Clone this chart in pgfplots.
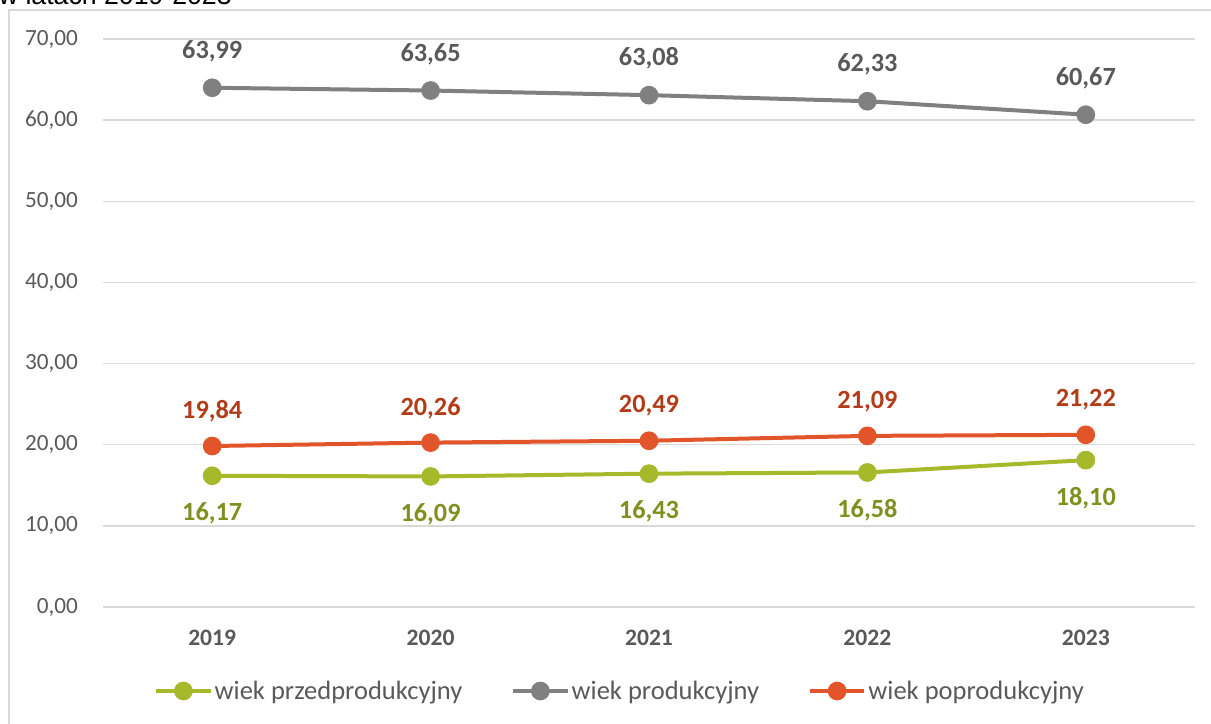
\documentclass[border=0pt]{standalone}
\usepackage{pgfplots}
\pgfplotsset{compat=1.18}
\usepackage{fontspec}
\setmainfont{Carlito}
\newfontfamily\arialfont{Liberation Sans}
\definecolor{cgreen}{HTML}{A5B92B}
\definecolor{cgreenT}{HTML}{7F901F}
\definecolor{corange}{HTML}{E2542A}
\definecolor{corangeT}{HTML}{B23C17}
\definecolor{cgray}{HTML}{808080}
\definecolor{cgrayT}{HTML}{595959}
\definecolor{cgrid}{HTML}{D9D9D9}
\begin{document}
\begin{tikzpicture}
\path[use as bounding box] (0,0) rectangle (908.25pt,543pt);
\clip (0,0) rectangle (908.25pt,543pt);
\draw[cgrid, line width=1.2pt] (6.75pt,-5pt) -- (6.75pt,535.5pt) -- (915pt,535.5pt);
\node[anchor=base west, inner sep=0, font=\arialfont\fontsize{20}{24}\selectfont, text=black] at (-1pt,539.25pt) {w latach 2019-2023};
\begin{axis}[
  at={(77.25pt,87.75pt)}, anchor=south west,
  scale only axis, width=819pt, height=426pt,
  xmin=0, xmax=5, ymin=0, ymax=70,
  xtick={0.5,1.5,2.5,3.5,4.5},
  xticklabels={2019,2020,2021,2022,2023},
  ytick={0,10,...,70},
  axis line style={draw=none},
  major tick length=0pt,
  ymajorgrids, grid style={cgrid, line width=1pt},
  /pgf/number format/assume math mode=true,
  /pgf/number format/use comma,
  /pgf/number format/fixed,
  /pgf/number format/fixed zerofill,
  /pgf/number format/precision=2,
  yticklabel style={font=\fontsize{17.4}{20}\selectfont, text=cgrayT, anchor=east, xshift=-14pt},
  xticklabel style={font=\bfseries\fontsize{17.7}{20}\selectfont, text=cgrayT, anchor=center, yshift=-23pt},
  line width=3pt,
  mark size=5.5pt,
  nodes near coords,
  every node near coord/.append style={font=\bfseries\fontsize{19.7}{22}\selectfont, anchor=center},
  legend columns=3,
  legend cell align=left,
  legend style={draw=none, fill=none, at={(axis description cs:0.4734,-0.1479)}, anchor=center,
    font=\fontsize{19.9}{22}\selectfont, text=cgrayT,
    nodes={inner sep=1.5pt},
    /tikz/every even column/.append style={column sep=35pt}},
  legend image code/.code={\draw[mark repeat=2,mark phase=2] plot coordinates {(0pt,0pt)(20.5pt,0pt)(41pt,0pt)};},
]
\addplot[cgreen, mark=*, mark options={solid, fill=cgreen, draw=cgreen},
  every node near coord/.append style={text=cgreenT, yshift=-28.5pt}]
  coordinates {(0.5,16.17)(1.5,16.09)(2.5,16.43)(3.5,16.58)(4.5,18.10)};
\addlegendentry{wiek przedprodukcyjny}
\addplot[cgray, mark=*, mark options={solid, fill=cgray, draw=cgray},
  every node near coord/.append style={text=cgrayT, yshift=27.5pt}]
  coordinates {(0.5,63.99)(1.5,63.65)(2.5,63.08)(3.5,62.33)(4.5,60.67)};
\addlegendentry{wiek produkcyjny}
\addplot[corange, mark=*, mark options={solid, fill=corange, draw=corange},
  every node near coord/.append style={text=corangeT, yshift=26pt}]
  coordinates {(0.5,19.84)(1.5,20.26)(2.5,20.49)(3.5,21.09)(4.5,21.22)};
\addlegendentry{wiek poprodukcyjny}
\end{axis}
\end{tikzpicture}
\end{document}
